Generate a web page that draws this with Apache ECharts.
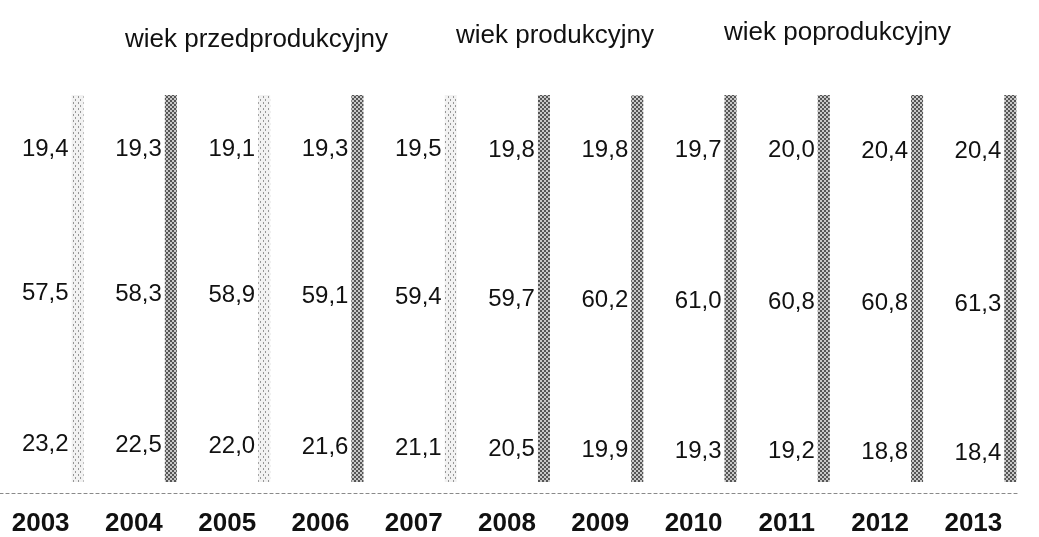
<!DOCTYPE html>
<html>
<head>
<meta charset="utf-8">
<script src="https://cdn.jsdelivr.net/npm/echarts@6/dist/echarts.min.js"></script>
<style>
html,body{margin:0;padding:0;background:#fff;}
#c{width:1039px;height:537px;}
</style>
</head>
<body>
<div id="c"></div>
<script>
// ---- data ----
var years = ['2003','2004','2005','2006','2007','2008','2009','2010','2011','2012','2013'];
var seriesNames = ['wiek przedprodukcyjny','wiek produkcyjny','wiek poprodukcyjny'];
var przedprodukcyjny = [23.2,22.5,22.0,21.6,21.1,20.5,19.9,19.3,19.2,18.8,18.4];
var produkcyjny      = [57.5,58.3,58.9,59.1,59.4,59.7,60.2,61.0,60.8,60.8,61.3];
var poprodukcyjny    = [19.4,19.3,19.1,19.3,19.5,19.8,19.8,19.7,20.0,20.4,20.4];

// ---- styles (scan-like stipple) ----
var darkStyle = {
  color: '#c8c8c8',
  decal: { symbol: 'rect', symbolSize: 1, color: '#555555',
           dashArrayX: [[2, 2], [0, 2, 2, 0]], dashArrayY: [2, 0], rotation: 0 }
};
var lightStyle = {
  color: '#f2f2f2',
  decal: { symbol: 'rect', symbolSize: 1, color: 'rgba(90,90,90,0.6)',
           dashArrayX: [[1, 4], [0, 3, 1, 1]], dashArrayY: [2, 1], rotation: 0 }
};
var lightBars = { 0: true, 2: true, 4: true };

function build(vals) {
  return vals.map(function (v, i) {
    return { value: v, itemStyle: lightBars[i] ? lightStyle : darkStyle };
  });
}

var FONT = 'Liberation Sans, Arial, sans-serif';

function barSeries(name, vals, dy) {
  return {
    name: name, type: 'bar', stack: 'total', barWidth: 12, barGap: '516%',
    data: build(vals),
    label: { show: true, position: 'left', distance: 3, offset: [0, dy],
      fontFamily: FONT, fontSize: 24, color: '#111',
      formatter: function (p) { return p.value.toFixed(1).replace('.', ','); } },
    emphasis: { disabled: true }
  };
}

var chart = echarts.init(document.getElementById('c'), null, { renderer: 'canvas' });

function legendAt(name, left, top) {
  return {
    data: [name], left: left, top: top, icon: 'rect', itemWidth: 0, itemHeight: 0, itemGap: 0,
    selectedMode: false, padding: 0,
    textStyle: { fontFamily: FONT, fontSize: 26, color: '#111', padding: 0 }
  };
}

chart.setOption({
  animation: false,
  backgroundColor: '#fff',
  legend: [
    legendAt(seriesNames[0], 120, 27),
    legendAt(seriesNames[1], 451, 23),
    legendAt(seriesNames[2], 719, 20)
  ],
  grid: { left: -6, right: 19, top: 95, bottom: 55, containLabel: false, outerBoundsMode: 'none' },
  xAxis: {
    type: 'category', data: years, offset: 11,
    axisTick: { show: false },
    axisLine: { show: true, onZero: false, lineStyle: { color: '#8a8a8a', type: [3, 3], width: 1.2 } },
    axisLabel: { margin: 18, fontFamily: FONT, fontSize: 26, fontWeight: 'bold', color: '#111' }
  },
  yAxis: { type: 'value', min: 0, max: 100, show: false, splitLine: { show: false } },
  series: [
    { name: 'spacer', type: 'bar', stack: 'spacer', barWidth: 12, barGap: '516%',
      data: years.map(function () { return '-'; }), silent: true },
    barSeries(seriesNames[0], przedprodukcyjny, 7),
    barSeries(seriesNames[1], produkcyjny, 12),
    barSeries(seriesNames[2], poprodukcyjny, 17)
  ]
});
</script>
</body>
</html>
